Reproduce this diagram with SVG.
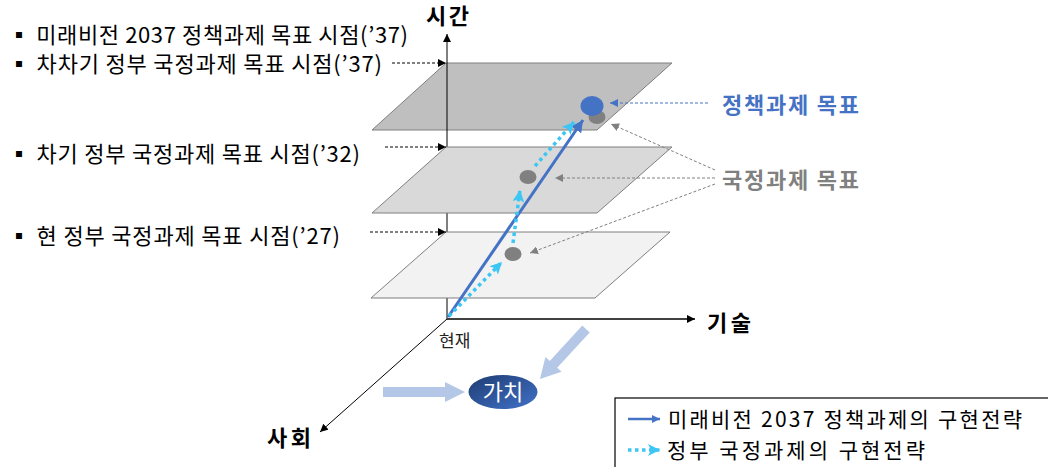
<svg xmlns="http://www.w3.org/2000/svg" width="1048" height="467" viewBox="0 0 1048 467">
<style>
text{font-family:"Noto Sans CJK KR","Noto Sans",sans-serif;}
.lbl{font-size:22px;fill:#000;}
.leg{font-size:21px;fill:#000;}
.bold{font-weight:bold;}
.plane{stroke:#7f7f7f;stroke-width:1;}
.dot{fill:#808080;}
.dashk{stroke:#000;stroke-width:1;stroke-dasharray:3 2;fill:none;}
.dashg{stroke:#808080;stroke-width:1;stroke-dasharray:3 2;fill:none;}
.cyan{stroke:#3cc6f4;stroke-width:3.5;stroke-dasharray:3.5 3.5;fill:none;}
.blue{stroke:#4472c4;stroke-width:3;fill:none;}
.light{fill:#b4c7e7;}
</style>
<defs>
<marker id="ak" markerUnits="userSpaceOnUse" markerWidth="9" markerHeight="8" refX="8" refY="4" orient="auto"><path d="M0,0 L8,4 L0,8 z" fill="#000"/></marker>
<marker id="ag" markerUnits="userSpaceOnUse" markerWidth="9" markerHeight="8" refX="8" refY="4" orient="auto"><path d="M0,0 L8,4 L0,8 z" fill="#808080"/></marker>
<marker id="ab" markerUnits="userSpaceOnUse" markerWidth="9" markerHeight="8" refX="8" refY="4" orient="auto"><path d="M0,0 L8,4 L0,8 z" fill="#4472c4"/></marker>
<marker id="abig" markerUnits="userSpaceOnUse" markerWidth="13" markerHeight="12" refX="12" refY="6" orient="auto"><path d="M0,0 L12,6 L0,12 z" fill="#4472c4"/></marker>
<marker id="ac" markerUnits="userSpaceOnUse" markerWidth="13" markerHeight="12" refX="12" refY="6" orient="auto"><path d="M0,0 L12,6 L0,12 L3,6 z" fill="#3cc6f4"/></marker>
<linearGradient id="gv" x1="0" y1="0" x2="1" y2="1"><stop offset="0" stop-color="#1f3c73"/><stop offset="1" stop-color="#4172c8"/></linearGradient>
</defs>

<g id="plane-top"><polygon class="plane" points="446,63 672,63 597,130 372,130" fill="#bfbfbf"/></g>

<g id="axes">
<line x1="447" y1="319" x2="447" y2="34" stroke="#000" stroke-width="1" marker-end="url(#ak)"/>
<line x1="447" y1="319" x2="695" y2="319" stroke="#404040" stroke-width="1.8" marker-end="url(#ak)"/>
<line x1="447" y1="319" x2="320" y2="432" stroke="#000" stroke-width="1" marker-end="url(#ak)"/>
</g>

<g id="plane-mid"><polygon class="plane" points="446,147 672,147 597,213 372,213" fill="#d9d9d9"/></g>
<g id="plane-low"><polygon class="plane" points="446,232 670,232 595,298 371,298" fill="#f2f2f2"/></g>

<g id="goal-dots">
<ellipse class="dot" cx="597" cy="117" rx="8.5" ry="7"/>
<ellipse cx="592" cy="106" rx="11.5" ry="10" fill="#4472c4"/>
<ellipse class="dot" cx="528" cy="177" rx="8.5" ry="7"/>
<ellipse class="dot" cx="513" cy="254" rx="8.5" ry="7"/>
</g>

<g id="connectors">
<line class="dashk" x1="392" y1="63" x2="446" y2="63" marker-end="url(#ak)"/>
<line class="dashk" x1="385" y1="147" x2="446" y2="147" marker-end="url(#ak)"/>
<line class="dashk" x1="370" y1="232" x2="446" y2="232" marker-end="url(#ak)"/>
<line x1="708" y1="103" x2="610" y2="103" stroke="#4472c4" stroke-width="1" stroke-dasharray="3 2" marker-end="url(#ab)"/>
<line class="dashg" x1="715" y1="170" x2="611" y2="124" marker-end="url(#ag)"/>
<line class="dashg" x1="715" y1="178" x2="555" y2="178" marker-end="url(#ag)"/>
<line class="dashg" x1="715" y1="184" x2="530" y2="253" marker-end="url(#ag)"/>
<line class="blue" x1="448" y1="317" x2="583" y2="120" marker-end="url(#abig)"/>
<path class="cyan" d="M449,316 L502,262" marker-end="url(#ac)"/>
<path class="cyan" d="M513,243 L520,190" marker-end="url(#ac)"/>
<path class="cyan" d="M535,166 L574,122" marker-end="url(#ac)"/>
<path class="light" transform="translate(383,392)" d="M0,-5 L62,-5 L62,-10 L82,0 L62,10 L62,5 L0,5 z"/>
<path class="light" transform="translate(586,329) rotate(132.6)" d="M0,-5 L48,-5 L48,-11 L68,0 L48,11 L48,5 L0,5 z"/>
</g>

<g id="left-labels">
<text class="lbl" x="8" y="43" textLength="400" lengthAdjust="spacing">▪ 미래비전 2037 정책과제 목표 시점(’37)</text>
<text class="lbl" x="8" y="72" textLength="374" lengthAdjust="spacing">▪ 차차기 정부 국정과제 목표 시점(’37)</text>
<text class="lbl" x="8" y="162" textLength="352" lengthAdjust="spacing">▪ 차기 정부 국정과제 목표 시점(’32)</text>
<text class="lbl" x="8" y="244" textLength="332" lengthAdjust="spacing">▪ 현 정부 국정과제 목표 시점(’27)</text>
</g>

<g id="right-labels">
<text class="bold" x="722" y="113" font-size="22" fill="#4472c4" textLength="137" lengthAdjust="spacing">정책과제 목표</text>
<text class="bold" x="722" y="188" font-size="22" fill="#808080" textLength="137" lengthAdjust="spacing">국정과제 목표</text>
</g>

<g id="axis-labels">
<text class="bold" x="426" y="24" font-size="22" textLength="43" lengthAdjust="spacing">시간</text>
<text class="bold" x="707" y="331" font-size="22" textLength="44" lengthAdjust="spacing">기술</text>
<text class="bold" x="267" y="446" font-size="22" textLength="44" lengthAdjust="spacing">사회</text>
<text x="439" y="347" font-size="17" fill="#222">현재</text>
</g>

<g id="value">
<ellipse cx="503" cy="392" rx="34.5" ry="17" fill="url(#gv)"/>
<text x="503" y="400" font-size="22" fill="#fff" text-anchor="middle">가치</text>
</g>

<g id="legend">
<rect x="615" y="398" width="450" height="80" fill="#fff" stroke="#000" stroke-width="1.2"/>
<line x1="628" y1="419" x2="660" y2="419" stroke="#4472c4" stroke-width="2.5" marker-end="url(#ab)"/>
<text class="leg" x="668" y="427" textLength="354" lengthAdjust="spacing">미래비전 2037 정책과제의 구현전략</text>
<line x1="628" y1="450" x2="660" y2="450" stroke="#3cc6f4" stroke-width="3.5" stroke-dasharray="3.5 3.5" marker-end="url(#ac)"/>
<text class="leg" x="667" y="458" textLength="258" lengthAdjust="spacing">정부 국정과제의 구현전략</text>
</g>
</svg>
